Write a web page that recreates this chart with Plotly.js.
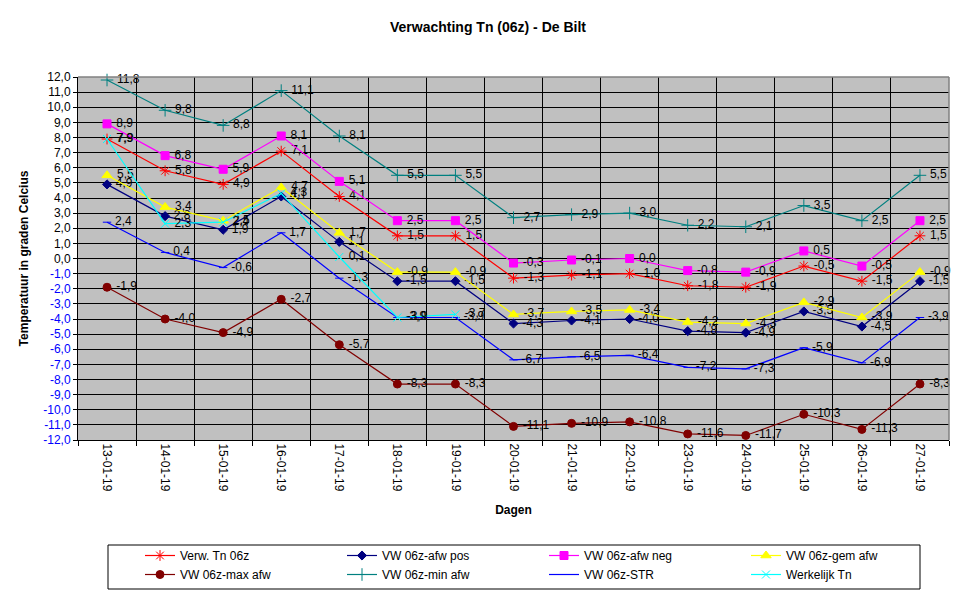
<!DOCTYPE html>
<html>
<head>
<meta charset="utf-8">
<script src="https://cdn.plot.ly/plotly-3.0.1.min.js"></script>
<style>
  html, body { margin: 0; padding: 0; background: #fff; }
  #chart { width: 976px; height: 599px; }
</style>
</head>
<body>
<div id="chart"></div>
<script>
// dagen en reeksen
const dagen = ['13-01-19','14-01-19','15-01-19','16-01-19','17-01-19','18-01-19','19-01-19','20-01-19',
  '21-01-19','22-01-19','23-01-19','24-01-19','25-01-19','26-01-19','27-01-19'];

const verwTn   = [7.9, 5.8, 4.9, 7.1, 4.1, 1.5, 1.5, -1.3, -1.1, -1.0, -1.8, -1.9, -0.5, -1.5, 1.5];
const afwPos   = [4.9, 2.8, 1.9, 4.1, 1.1, -1.5, -1.5, -4.3, -4.1, -4.0, -4.8, -4.9, -3.5, -4.5, -1.5];
const afwNeg   = [8.9, 6.8, 5.9, 8.1, 5.1, 2.5, 2.5, -0.3, -0.1, 0.0, -0.8, -0.9, 0.5, -0.5, 2.5];
const gemAfw   = [5.5, 3.4, 2.5, 4.7, 1.7, -0.9, -0.9, -3.7, -3.5, -3.4, -4.2, -4.3, -2.9, -3.9, -0.9];
const maxAfw   = [-1.9, -4.0, -4.9, -2.7, -5.7, -8.3, -8.3, -11.1, -10.9, -10.8, -11.6, -11.7, -10.3, -11.3, -8.3];
const minAfw   = [11.8, 9.8, 8.8, 11.1, 8.1, 5.5, 5.5, 2.7, 2.9, 3.0, 2.2, 2.1, 3.5, 2.5, 5.5];
const str      = [2.4, 0.4, -0.6, 1.7, -1.3, -3.9, -3.9, -6.7, -6.5, -6.4, -7.2, -7.3, -5.9, -6.9, -3.9];
const werkTn   = [7.9, 2.3, 2.4, 4.3, 0.1, -3.9, -3.7, null, null, null, null, null, null, null, null];

const yTicks = [];
for (let v = 12; v >= -12; v--) yTicks.push(v);

const fmt = v => (v === null ? '' : v.toFixed(1).replace('.', ','));
const FONT = 'Liberation Sans, Arial, sans-serif';

function serie(name, y, color, symbol, size) {
  return {
    name, x: dagen, y, type: 'scatter', mode: 'lines+markers+text',
    line: { color, width: 1.2 },
    marker: { color, symbol, size, line: { color, width: 1 } },
    text: y.map(v => (v === null ? '' : '\u00a0' + fmt(v))),
    textposition: 'middle right',
    textfont: { family: FONT, size: 12, color: '#000' },
    cliponaxis: false,
    hoverinfo: 'x+y'
  };
}

const data = [
  serie('Verw. Tn 06z', verwTn, '#ff0000', 'asterisk-open', 9),
  serie('VW 06z-afw pos', afwPos, '#000080', 'diamond', 7),
  serie('VW 06z-afw neg', afwNeg, '#ff00ff', 'square', 8),
  serie('VW 06z-gem afw', gemAfw, '#ffff00', 'triangle-up', 9),
  serie('VW 06z-max afw', maxAfw, '#800000', 'circle', 8),
  serie('VW 06z-min afw', minAfw, '#008080', 'cross-thin-open', 9),
  serie('VW 06z-STR', str, '#0000ff', 'line-ew-open', 6),
  serie('Werkelijk Tn', werkTn, '#00ffff', 'x-thin-open', 8)
];

// hulpas voor de verticale rasterlijnen tussen de dagen
data.push({ x: [0], y: [null], xaxis: 'x2', type: 'scatter', mode: 'lines', showlegend: false, hoverinfo: 'skip' });

const half = dagen.map((d, i) => i - 0.5).concat([dagen.length - 0.5]);

// plotgebied in pixels: links 78, rechts 949, boven 77, onder 440
const px = x => (x - 78) / 871;
const py = y => (440 - y) / 363;

const layout = {
  width: 976, height: 599,
  margin: { l: 78, r: 27, t: 77, b: 159 },
  paper_bgcolor: '#fff',
  plot_bgcolor: '#c0c0c0',
  font: { family: FONT, size: 12, color: '#000' },
  title: {
    text: '<b>Verwachting Tn (06z) - De Bilt</b>',
    font: { family: FONT, size: 14 },
    x: 0.5, xanchor: 'center', y: 0.955, yanchor: 'middle'
  },
  xaxis: {
    type: 'category',
    range: [-0.5, dagen.length - 0.5],
    tickangle: 90,
    ticks: '', showgrid: false,
    showline: true, linecolor: '#000', linewidth: 1,
    tickfont: { family: FONT, size: 12 },
    title: { text: '<b>Dagen</b>', font: { family: FONT, size: 12 }, standoff: 14 },
    zeroline: false
  },
  xaxis2: {
    overlaying: 'x', side: 'bottom',
    range: [-0.5, dagen.length - 0.5],
    tickvals: half, ticktext: half.map(() => ''),
    ticks: 'outside', ticklen: 5, tickcolor: '#000',
    showgrid: true, gridcolor: '#000', gridwidth: 1,
    zeroline: false, showline: false
  },
  yaxis: {
    range: [-12, 12],
    tickvals: yTicks,
    ticktext: yTicks.map(v => v < 0 ? '<span style="color:#0000ff">' + fmt(v) + '</span>' : fmt(v)),
    ticks: 'outside', ticklen: 4, tickcolor: '#000',
    showgrid: true, gridcolor: '#000', gridwidth: 1,
    zeroline: false,
    showline: true, linecolor: '#000', linewidth: 1,
    tickfont: { family: FONT, size: 12 },
    title: { text: '<b>Temperatuur in graden Celcius</b>', font: { family: FONT, size: 12 }, standoff: 12 }
  },
  shapes: [
    { type: 'line', xref: 'paper', yref: 'paper', x0: 0, x1: 1, y0: 1, y1: 1, line: { color: '#808080', width: 1.5 } },
    { type: 'line', xref: 'paper', yref: 'paper', x0: 1, x1: 1, y0: 0, y1: 1, line: { color: '#808080', width: 1.5 } },
    // kader om de legenda
    { type: 'rect', xref: 'paper', yref: 'paper', layer: 'below',
      x0: px(108), x1: px(920), y0: py(545), y1: py(589),
      line: { color: '#000', width: 1 }, fillcolor: '#fff' }
  ],
  legend: {
    orientation: 'h',
    xref: 'container', yref: 'container',
    x: 140 / 976, xanchor: 'left',
    y: 1 - 541 / 599, yanchor: 'top',
    entrywidth: 157,
    bgcolor: 'rgba(0,0,0,0)', borderwidth: 0,
    font: { family: FONT, size: 12 },
    traceorder: 'normal'
  },
  showlegend: true
};

Plotly.newPlot('chart', data, layout, { displayModeBar: false, staticPlot: true });
</script>
</body>
</html>
